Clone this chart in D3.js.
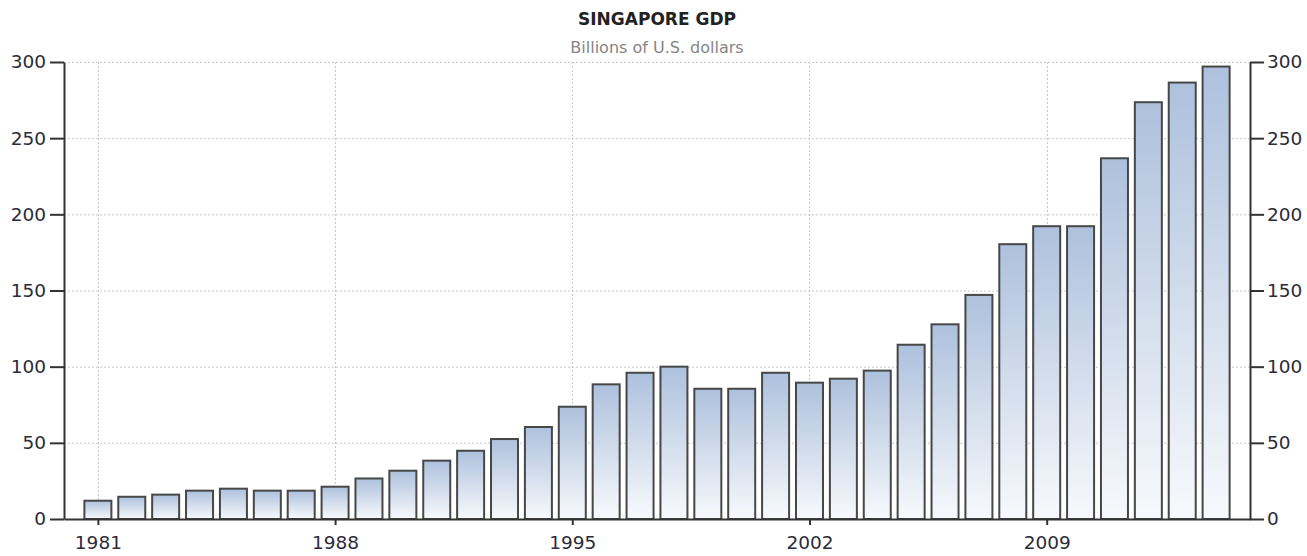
<!DOCTYPE html>
<html>
<head>
<meta charset="utf-8">
<script src="https://cdn.jsdelivr.net/npm/d3@7"></script>
<style>
    html, body { margin: 0; padding: 0; background: #fff; }
    #chart { width: 1307px; height: 556px; }
    text { font-family: "DejaVu Sans", Verdana, sans-serif; }
</style>
</head>
<body>
<div id="chart"></div>
<script>
const years = d3.range(1981, 2015);
const gdp = [
    12.0, 14.6, 16.0, 18.6, 19.9, 18.6, 18.6, 21.2, 26.6, 31.7,
    38.3, 44.8, 52.5, 60.4, 73.7, 88.4, 96.0, 100.0, 85.5, 85.5,
    96.0, 89.5, 92.1, 97.4, 114.4, 127.8, 147.1, 180.4, 192.2, 192.2,
    236.8, 273.6, 286.5, 297.0
];
const yearTicks = [1981, 1988, 1995, 2002, 2009];
const valueTicks = [0, 50, 100, 150, 200, 250, 300];
const title = "SINGAPORE GDP";
const subtitle = "Billions of U.S. dollars";

document.addEventListener("DOMContentLoaded", () => {
    const data = years.map((year, i) => ({ year, value: gdp[i] }));

    const width = 1307;
    const height = 556;
    const plot = { left: 64, right: 1250, top: 62, bottom: 519 };

    const xScale = d3.scaleLinear()
        .domain([1980, 2015])
        .range([plot.left, plot.right]);

    const yScale = d3.scaleLinear()
        .domain([0, 300])
        .range([plot.bottom, plot.top]);

    const svg = d3.select("#chart").append("svg")
        .attr("width", width)
        .attr("height", height)
        .attr("viewBox", [0, 0, width, height]);

    const defs = svg.append("defs");
    const gradient = defs.append("linearGradient")
        .attr("id", "bar-fill")
        .attr("x1", "0%")
        .attr("x2", "0%")
        .attr("y1", "0%")
        .attr("y2", "100%");
    gradient.append("stop").attr("offset", "0%").attr("stop-color", "#adc1dd");
    gradient.append("stop").attr("offset", "100%").attr("stop-color", "#f8f9fc");

    // titles
    svg.append("text")
        .attr("x", (plot.left + plot.right) / 2)
        .attr("y", 25)
        .attr("text-anchor", "middle")
        .attr("font-size", 17)
        .attr("font-weight", 700)
        .attr("fill", "#222")
        .text(title);

    svg.append("text")
        .attr("x", (plot.left + plot.right) / 2)
        .attr("y", 53)
        .attr("text-anchor", "middle")
        .attr("font-size", 16)
        .attr("fill", "#858585")
        .text(subtitle);

    // dotted grid
    const grid = svg.append("g")
        .attr("stroke", "#c8c8c8")
        .attr("stroke-width", 1)
        .attr("stroke-dasharray", "2,2");

    grid.selectAll("line.h")
        .data(valueTicks.filter((v) => v > 0))
        .join("line")
        .attr("class", "h")
        .attr("x1", plot.left)
        .attr("x2", plot.right)
        .attr("y1", (d) => yScale(d) + 0.5)
        .attr("y2", (d) => yScale(d) + 0.5);

    grid.selectAll("line.v")
        .data(yearTicks)
        .join("line")
        .attr("class", "v")
        .attr("x1", (d) => Math.round(xScale(d)) + 0.5)
        .attr("x2", (d) => Math.round(xScale(d)) + 0.5)
        .attr("y1", plot.top)
        .attr("y2", plot.bottom);

    // bars
    const barWidth = 27;
    svg.append("g")
        .selectAll("rect")
        .data(data)
        .join("rect")
        .attr("x", (d) => xScale(d.year) - barWidth / 2)
        .attr("y", (d) => yScale(d.value))
        .attr("width", barWidth)
        .attr("height", (d) => yScale(0) - yScale(d.value))
        .attr("fill", "url(#bar-fill)")
        .attr("stroke", "#474747")
        .attr("stroke-width", 2);

    // axes
    const styleAxis = (g) => {
        g.select(".domain").attr("stroke", "#333").attr("stroke-width", 2);
        g.selectAll(".tick line").attr("stroke", "#333").attr("stroke-width", 2);
        g.selectAll(".tick text")
            .attr("fill", "#2b2b3a")
            .attr("font-size", 18.5)
            .attr("font-family", "\"DejaVu Sans\", Verdana, sans-serif");
    };

    svg.append("g")
        .attr("transform", `translate(${plot.left}, 0)`)
        .call(d3.axisLeft(yScale).tickValues(valueTicks).tickSize(14).tickSizeOuter(0).tickPadding(4))
        .call(styleAxis);

    svg.append("g")
        .attr("transform", `translate(${plot.right}, 0)`)
        .call(d3.axisRight(yScale).tickValues(valueTicks).tickSize(14).tickSizeOuter(0).tickPadding(3))
        .call(styleAxis);

    svg.append("g")
        .attr("transform", `translate(0, ${plot.bottom})`)
        .call(d3.axisBottom(xScale).tickValues(yearTicks).tickFormat(d3.format("d")).tickSize(6).tickSizeOuter(0).tickPadding(11))
        .call(styleAxis);
});
</script>
</body>
</html>
